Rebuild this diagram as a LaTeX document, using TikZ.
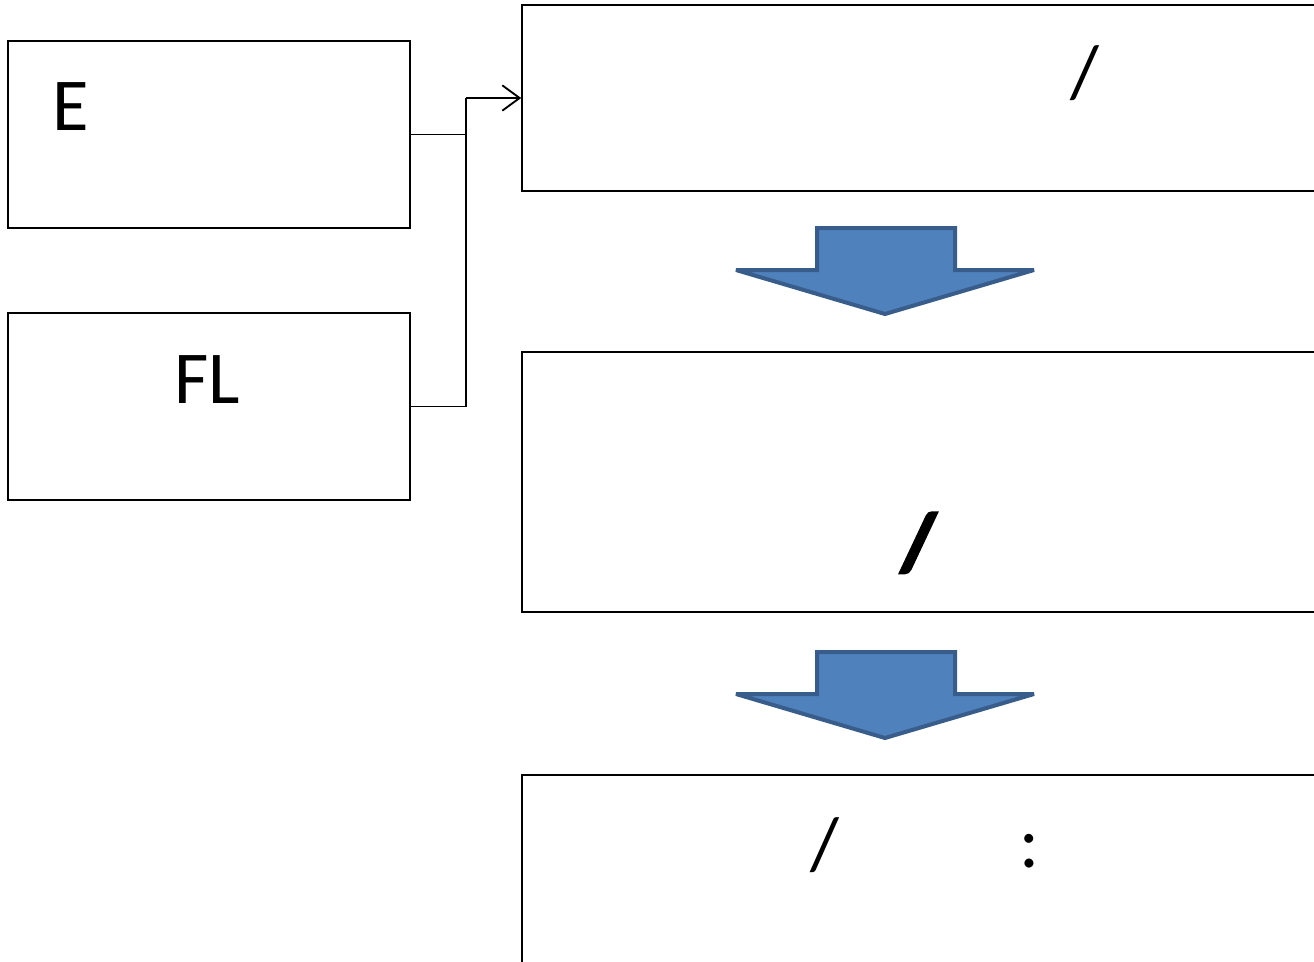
\documentclass[tikz,border=0pt]{standalone}
\usepackage{fontspec}
\setmainfont{Carlito}
\newfontfamily\heavyfont[FakeBold=4]{Carlito Bold}
\usetikzlibrary{arrows.meta}
\definecolor{arrowfill}{HTML}{4F81BD}
\definecolor{arrowline}{HTML}{385D8A}
\begin{document}
\begin{tikzpicture}[x=0.75pt,y=-0.75pt,
        box/.style={draw,rectangle,line width=1.2pt,inner sep=0pt},
        txt/.style={anchor=base west,inner sep=0pt,font=\fontsize{56}{60}\selectfont},
        blockarrow/.style={fill=arrowfill,draw=arrowline,line width=3pt,line join=miter,miter limit=2}]
    \clip (0,0) rectangle (1314,961);
    \useasboundingbox (0,0) rectangle (1314,961);

    \node[box,minimum width=402*0.75pt,minimum height=187*0.75pt] (e) at (209,134.5) {};
    \node[box,minimum width=402*0.75pt,minimum height=187*0.75pt] (fl) at (209,406.5) {};
    \node[box,minimum width=818*0.75pt,minimum height=186*0.75pt] (top) at (931,98) {};
    \node[box,minimum width=818*0.75pt,minimum height=260*0.75pt] (mid) at (931,482) {};
    \node[box,minimum width=818*0.75pt,minimum height=215*0.75pt] (bot) at (931,882.5) {};

    \node[txt] (etxt) at (52,130) {E};
    \node[txt] (fltxt) at (174,403) {FL};
    \node[txt] (topslash) at (1070,97) {/};
    \node[txt,font=\heavyfont\fontsize{60}{60}\selectfont] (midslash) at (901,569) {/};
    \node[txt] (botslash) at (810,869) {/};
    \node[txt] (botcolon) at (1019,867) {:};

    % connectors
    \coordinate (join) at (466,98);
    \draw[line width=1.4pt] (e.east) -| (join);
    \draw[line width=1.4pt] (fl.east) -| (join);
    \draw[line width=1.4pt,-{Straight Barb[length=13pt,width=19pt]}] (join) -- (top.west);

    % block arrows
    \foreach \dy in {0,424}{
        \draw[blockarrow] (817,228+\dy) -- (955,228+\dy) -- (955,270+\dy) -- (1034,270+\dy)
            -- (885,314+\dy) -- (736,270+\dy) -- (817,270+\dy) -- cycle;
    }
\end{tikzpicture}
\end{document}
